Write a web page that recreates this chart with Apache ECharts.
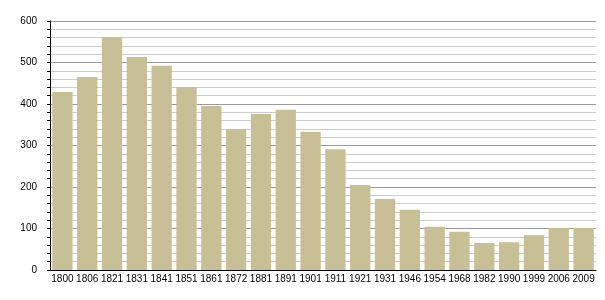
<!DOCTYPE html>
<html><head><meta charset="utf-8">
<script src="https://cdn.jsdelivr.net/npm/echarts@6/dist/echarts.min.js"></script>
<style>html,body{margin:0;padding:0;background:#fff}#c{width:605px;height:300px}</style>
</head><body><div id="c"></div>
<script>
const years = ['1800','1806','1821','1831','1841','1851','1861','1872','1881','1891','1901','1911','1921','1931','1946','1954','1968','1982','1990','1999','2006','2009'];
const population = [429,465,561,513,492,441,395,340,376,386,333,291,205,171,145,104,92,65,67,84,101,101];
const yTicks = {min:0, max:600, interval:100};

const chart = echarts.init(document.getElementById('c'), null, {renderer:'canvas'});
chart.setOption({
  animation:false,
  grid:{left:50, right:9, top:21, bottom:30},
  xAxis:{
    type:'category', data:years,
    axisLine:{lineStyle:{color:'#000', width:1}},
    axisTick:{show:false},
    axisLabel:{color:'#000', fontFamily:'Liberation Sans', fontSize:10, margin:4, interval:0}
  },
  yAxis:{
    type:'value', min:yTicks.min, max:yTicks.max, interval:yTicks.interval,
    axisLine:{show:true, lineStyle:{color:'#000', width:1}},
    axisTick:{show:true, length:3, lineStyle:{color:'#000'}},
    minorTick:{show:true, splitNumber:5, length:3, lineStyle:{color:'#000'}},
    axisLabel:{color:'#000', fontFamily:'Liberation Sans', fontSize:10, margin:13},
    splitLine:{show:true, lineStyle:{color:'#999', width:1}},
    minorSplitLine:{show:true, lineStyle:{color:'#ccc', width:1}}
  },
  series:[{
    type:'bar', data:population, barCategoryGap:'18%',
    itemStyle:{color:'#c9bf97'}
  }]
});
</script></body></html>
